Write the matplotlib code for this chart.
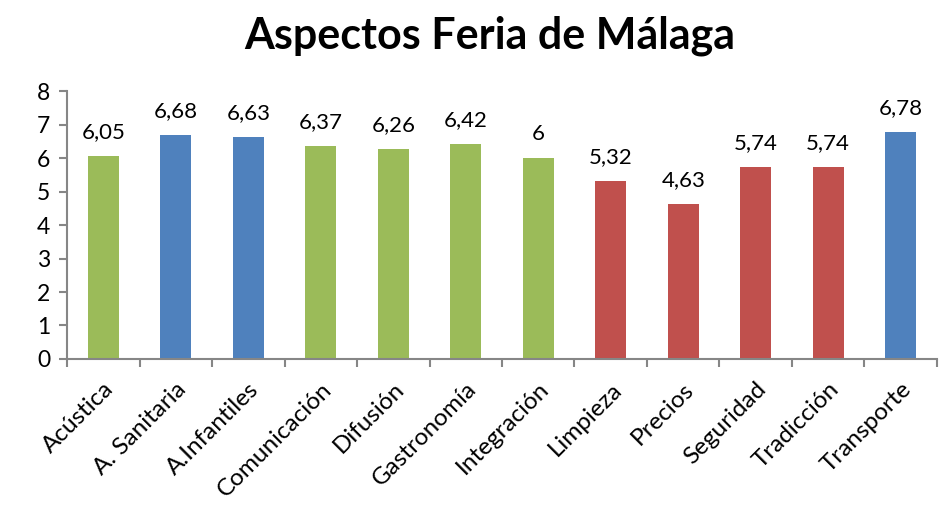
import matplotlib
matplotlib.use('Agg')
import matplotlib.pyplot as plt

categories = ['Acústica', 'A. Sanitaria', 'A.Infantiles', 'Comunicación', 'Difusión',
              'Gastronomía', 'Integración', 'Limpieza', 'Precios', 'Seguridad',
              'Tradicción', 'Transporte']
values = [6.05, 6.68, 6.63, 6.37, 6.26, 6.42, 6, 5.32, 4.63, 5.74, 5.74, 6.78]
groups = ['g', 'b', 'b', 'g', 'g', 'g', 'g', 'r', 'r', 'r', 'r', 'b']

palette = {'g': '#9BBB59', 'b': '#4F81BD', 'r': '#C0504D'}
axis_grey = '#868686'

plt.rcParams['font.family'] = ['Lato', 'DejaVu Sans']

fig = plt.figure(figsize=(9.47, 5.09), dpi=100)
ax = fig.add_axes([0.0708, 0.2947, 0.9186, 0.5265])

x = list(range(len(categories)))
ax.bar(x, values, width=0.43, color=[palette[g] for g in groups], zorder=2)

for xi, v in zip(x, values):
    label = f'{v:g}'.replace('.', ',')
    ax.annotate(label, (xi, v), xytext=(0, 10), textcoords='offset points',
                ha='center', va='bottom', fontsize=16)

ax.set_xlim(-0.5, len(categories) - 0.5)
ax.set_ylim(0, 8)
ax.set_yticks(range(0, 9))

# category boundaries get the tick marks, names sit in the middle
ax.set_xticks([i - 0.5 for i in range(len(categories) + 1)], minor=False)
ax.set_xticklabels([])
ax.set_xticks(x, minor=True)
ax.set_xticklabels(categories, minor=True, rotation=45, ha='right', va='top',
                   rotation_mode='anchor', fontsize=17.5)
ax.tick_params(axis='x', which='minor', length=0, pad=14)
ax.tick_params(axis='x', which='major', length=6, width=1.5, color=axis_grey)
ax.tick_params(axis='y', length=6, width=1.5, color=axis_grey, labelsize=16.5, pad=6)

for side in ['top', 'right']:
    ax.spines[side].set_visible(False)
for side in ['left', 'bottom']:
    ax.spines[side].set_color(axis_grey)
    ax.spines[side].set_linewidth(1.5)

fig.text(0.517, 0.93, 'Aspectos Feria de Málaga', ha='center', va='center',
         fontsize=31, fontweight='bold')

fig.savefig('out.png', dpi=100)
